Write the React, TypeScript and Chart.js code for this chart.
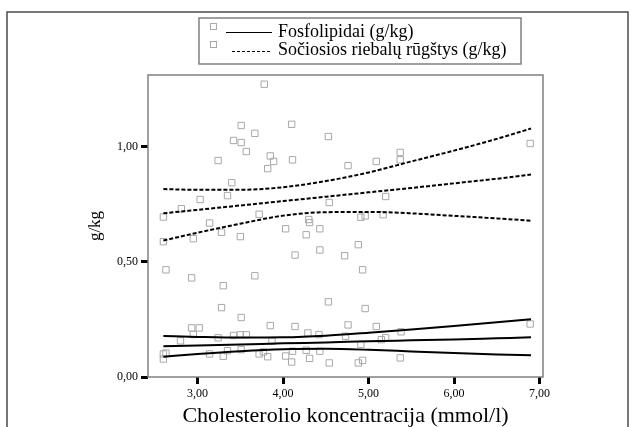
import { useEffect, useRef } from 'react';
import { Chart, registerables } from 'chart.js';

Chart.register(...registerables);

const FONT = '"Liberation Serif", "Times New Roman", serif';

const xTicks = [3, 4, 5, 6, 7];
const yTicks = [0, 0.5, 1];
const fmt = (v: number) => v.toFixed(2).replace('.', ',');

const legendLabels = ['Fosfolipidai (g/kg)', 'Sočiosios riebalų rūgštys (g/kg)'];
const xTitle = 'Cholesterolio koncentracija (mmol/l)';
const yTitle = 'g/kg';

// Sočiosios riebalų rūgštys – scatter points
const sfaX = [3.78, 3.51, 4.10, 3.67, 4.53, 3.42, 3.51, 6.89, 3.57, 5.37, 3.85, 3.89, 4.11, 3.24, 5.09, 5.37, 4.76, 3.82, 3.40, 3.35, 5.20, 3.03, 4.54, 2.81, 2.60, 3.72, 5.17, 4.96, 4.91, 4.30, 4.31, 3.14, 4.03, 4.43, 3.28, 4.27, 3.50, 2.95, 2.60, 4.43, 4.88, 4.14, 4.72, 2.63, 4.93, 3.67, 2.93, 3.30, 4.53, 3.28, 4.96, 3.51];
const sfaY = [1.27, 1.091, 1.096, 1.057, 1.043, 1.026, 1.017, 1.013, 0.978, 0.974, 0.959, 0.935, 0.942, 0.939, 0.935, 0.942, 0.917, 0.904, 0.843, 0.787, 0.783, 0.770, 0.757, 0.730, 0.694, 0.706, 0.704, 0.699, 0.693, 0.683, 0.670, 0.668, 0.643, 0.643, 0.628, 0.617, 0.609, 0.600, 0.587, 0.551, 0.574, 0.529, 0.526, 0.465, 0.465, 0.439, 0.430, 0.396, 0.326, 0.301, 0.297, 0.258];

// Fosfolipidai – scatter points
const fosX = [2.93, 3.02, 3.85, 4.14, 4.76, 5.09, 6.89, 2.95, 4.29, 4.42, 5.38, 3.42, 3.50, 3.57, 3.24, 5.20, 2.80, 4.73, 4.91, 5.15, 3.14, 2.60, 2.63, 3.35, 3.51, 3.72, 3.77, 3.82, 3.30, 4.03, 4.11, 4.27, 4.43, 4.10, 4.31, 4.54, 4.88, 4.93, 5.37, 2.60, 3.87];
const fosY = [0.213, 0.213, 0.223, 0.219, 0.226, 0.219, 0.230, 0.184, 0.191, 0.184, 0.196, 0.180, 0.183, 0.183, 0.170, 0.170, 0.157, 0.177, 0.141, 0.162, 0.100, 0.100, 0.104, 0.114, 0.119, 0.100, 0.109, 0.088, 0.090, 0.091, 0.112, 0.116, 0.112, 0.065, 0.081, 0.061, 0.061, 0.072, 0.083, 0.078, 0.155];

// Fitted lines and confidence bands
const fitX = [2.6, 3.0, 3.5, 4.0, 4.5, 5.0, 5.5, 6.0, 6.5, 6.9];
const fosFit = [0.133, 0.137, 0.141, 0.146, 0.150, 0.155, 0.159, 0.163, 0.168, 0.172];
const fosUpper = [0.178, 0.174, 0.171, 0.172, 0.179, 0.192, 0.206, 0.221, 0.237, 0.251];
const fosLower = [0.088, 0.100, 0.112, 0.120, 0.122, 0.118, 0.111, 0.104, 0.098, 0.094];
const sfaFit = [0.710, 0.725, 0.744, 0.763, 0.782, 0.801, 0.820, 0.840, 0.860, 0.878];
const sfaUpper = [0.815, 0.812, 0.812, 0.823, 0.850, 0.887, 0.935, 0.982, 1.033, 1.078];
const sfaLower = [0.592, 0.626, 0.665, 0.700, 0.715, 0.716, 0.710, 0.699, 0.688, 0.678];

const pts = (xs: number[], ys: number[]) => xs.map((x, i) => ({ x, y: ys[i] }));

const POINT_COLOR = '#a8a8a8';

const framePlugin = {
  id: 'framePlugin',
  beforeDatasetsDraw(chart: any) {
    const { ctx, chartArea: a } = chart;
    ctx.save();
    ctx.strokeStyle = '#808080';
    ctx.lineWidth = 1.5;
    ctx.strokeRect(a.left, a.top, a.right - a.left, a.bottom - a.top);
    ctx.restore();
  },
  afterDraw(chart: any) {
    const { ctx } = chart;
    ctx.save();
    // outer frame
    ctx.strokeStyle = '#4a4a4a';
    ctx.lineWidth = 1.5;
    ctx.strokeRect(7, 12, 621, 600);
    // legend box
    ctx.strokeStyle = '#808080';
    ctx.lineWidth = 1.5;
    ctx.strokeRect(199, 18, 322, 46);
    const rows = [
      { my: 27, ly: 32, ty: 32, x0: 226, dash: [] as number[] },
      { my: 45, ly: 51, ty: 50, x0: 232, dash: [3, 2] },
    ];
    rows.forEach((r, i) => {
      ctx.strokeStyle = POINT_COLOR;
      ctx.lineWidth = 1;
      ctx.setLineDash([]);
      ctx.strokeRect(210.5, r.my - 3.5, 6, 6);
      ctx.strokeStyle = '#000';
      ctx.lineWidth = 1;
      ctx.setLineDash(r.dash);
      ctx.beginPath();
      ctx.moveTo(r.x0, r.ly + 0.5);
      ctx.lineTo(272, r.ly + 0.5);
      ctx.stroke();
      ctx.setLineDash([]);
      ctx.fillStyle = '#000';
      ctx.font = `18px ${FONT}`;
      ctx.textBaseline = 'middle';
      ctx.textAlign = 'left';
      ctx.fillText(legendLabels[i], 278, r.ty);
    });
    ctx.restore();
  },
};

export default function App() {
  const ref = useRef<HTMLCanvasElement | null>(null);
  useEffect(() => {
    document.body.style.margin = '0';
    const canvas = ref.current;
    if (!canvas) return;
    const lineDs = (data: number[], dashed: boolean) => ({
      type: 'line' as const,
      data: pts(fitX, data),
      borderColor: '#000',
      borderWidth: 2,
      borderDash: dashed ? [4, 2] : [],
      pointRadius: 0,
      fill: false,
      tension: 0.4,
      cubicInterpolationMode: 'monotone' as const,
      showLine: true,
    });
    const chart = new Chart(canvas, {
      type: 'scatter',
      data: {
        datasets: [
          lineDs(fosFit, false),
          lineDs(fosUpper, false),
          lineDs(fosLower, false),
          lineDs(sfaFit, true),
          lineDs(sfaUpper, true),
          lineDs(sfaLower, true),
          {
            label: legendLabels[0],
            data: pts(fosX, fosY),
            pointStyle: 'rect',
            pointRadius: 4.5,
            pointBorderWidth: 1,
            borderColor: POINT_COLOR,
            backgroundColor: 'rgba(0,0,0,0)',
          },
          {
            label: legendLabels[1],
            data: pts(sfaX, sfaY),
            pointStyle: 'rect',
            pointRadius: 4.5,
            pointBorderWidth: 1,
            borderColor: POINT_COLOR,
            backgroundColor: 'rgba(0,0,0,0)',
          },
        ] as any,
      },
      options: {
        responsive: false,
        animation: false,
        devicePixelRatio: 1,
        layout: { padding: { top: 75, right: 93, left: 0, bottom: 0 } },
        plugins: { legend: { display: false }, tooltip: { enabled: false } },
        scales: {
          x: {
            type: 'linear',
            min: 2.42,
            max: 7.04,
            afterFit: (s: any) => { s.height = 50; },
            afterBuildTicks: (s: any) => { s.ticks = xTicks.map((v) => ({ value: v })); },
            ticks: {
              callback: (v: any) => fmt(Number(v)),
              color: '#000',
              font: { family: FONT, size: 12 },
              padding: 3,
              maxRotation: 0,
            },
            grid: { display: true, drawOnChartArea: false, drawTicks: true, tickLength: 7, tickWidth: 3, tickColor: '#000' },
            border: { display: false },
            title: { display: true, text: xTitle, color: '#000', font: { family: FONT, size: 22, lineHeight: 1 }, padding: { top: 0, bottom: 0 } },
          },
          y: {
            type: 'linear',
            min: 0,
            max: 1.31,
            afterFit: (s: any) => { s.width = 148; },
            afterBuildTicks: (s: any) => { s.ticks = yTicks.map((v) => ({ value: v })); },
            ticks: {
              callback: (v: any) => fmt(Number(v)),
              color: '#000',
              font: { family: FONT, size: 12 },
              padding: 3,
            },
            grid: { display: true, drawOnChartArea: false, drawTicks: true, tickLength: 7, tickWidth: 3, tickColor: '#000' },
            border: { display: false },
            title: { display: true, text: yTitle, color: '#000', font: { family: FONT, size: 17 }, padding: { top: 85, bottom: 0 } },
          },
        },
      } as any,
      plugins: [framePlugin],
    });
    return () => chart.destroy();
  }, []);
  return (
    <div style={{ width: 636, height: 427 }}>
      <canvas ref={ref} width={636} height={427} style={{ display: 'block' }} />
    </div>
  );
}
